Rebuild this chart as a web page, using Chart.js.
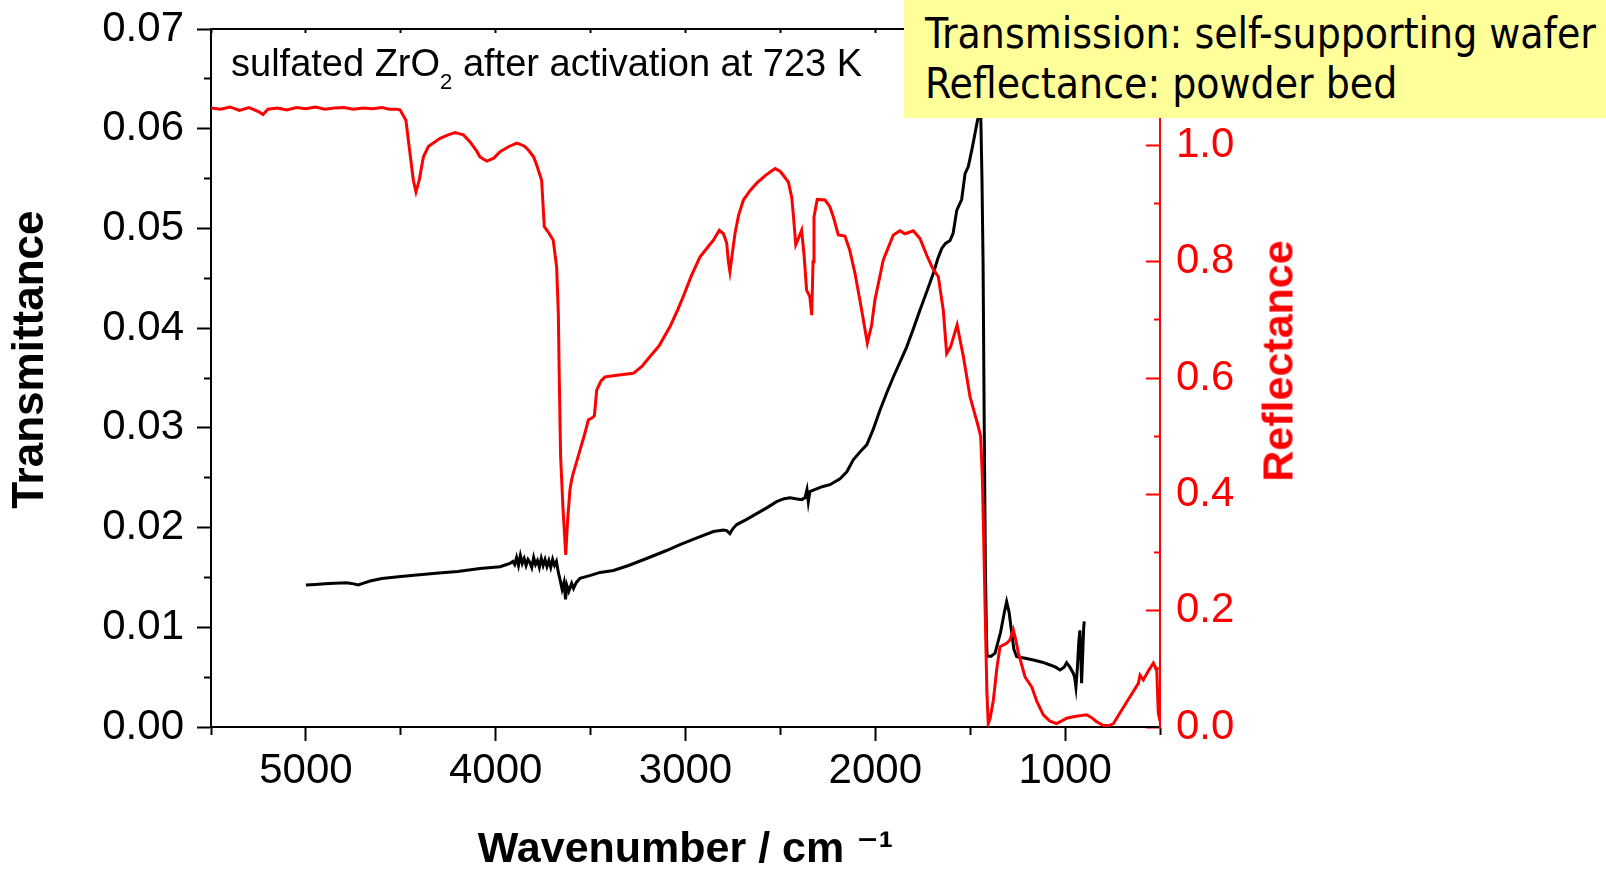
<!DOCTYPE html>
<html>
<head>
<meta charset="utf-8">
<script src="https://cdn.jsdelivr.net/npm/chart.js@4.4.1/dist/chart.umd.min.js"></script>
<style>
html,body{margin:0;padding:0;background:#fff;}
#wrap{position:relative;width:1606px;height:870px;overflow:hidden;background:#fff;}
#c{position:absolute;left:0;top:0;}
#note{position:absolute;left:231px;top:43.8px;font-family:'Liberation Sans',Arial,sans-serif;font-size:38px;line-height:38px;white-space:nowrap;color:#000;}
#note sub{font-size:0.58em;vertical-align:-13px;line-height:0;}
#box{position:absolute;left:904px;top:0;width:702px;height:118px;background:#ffff99;overflow:hidden;}
#boxtext{position:absolute;left:21px;top:9px;font-family:'DejaVu Sans Condensed','DejaVu Sans',sans-serif;font-stretch:condensed;font-size:41px;line-height:50.8px;white-space:nowrap;color:#000;}
#rtitle{position:absolute;left:1278px;top:361px;transform:translate(-50%,-50%) rotate(-90deg);font-family:'Liberation Sans',Arial,sans-serif;font-weight:bold;font-size:43px;line-height:43px;white-space:nowrap;color:#ff0000;}
</style>
</head>
<body>
<div id="wrap">
<canvas id="c" width="1606" height="870"></canvas>
<div id="note">sulfated ZrO<sub>2</sub> after activation at 723 K</div>
<div id="rtitle">Reflectance</div>
<div id="box"><div id="boxtext"><span id="l1">Transmission: self-supporting wafer</span><br><span id="l2">Reflectance: powder bed</span></div></div>
</div>
<script>
// ---- data (wavenumber in cm-1) ----
const TRANS_WN = [5000,4950,4900,4850,4785,4760,4724,4700,4662,4600,4500,4416,4300,4200,4083,3977,3950,3925,
  3910,3900,3890,3880,3870,3860,3850,3840,3830,3820,3810,3800,3790,3780,3770,3760,3750,3740,3730,3720,3710,3700,3690,3680,
  3670,3660,3650,3640,3632,3625,3615,3600,3590,3575,3556,3500,3450,3380,3300,3205,3100,3029,2950,2853,2800,2783,2766,2750,
  2730,2680,2625,2570,2520,2480,2449,2420,2388,2370,2360,2353,2345,2320,2280,2239,2186,2150,2116,2080,2045,2010,1975,1940,
  1905,1870,1835,1800,1765,1730,1694,1670,1650,1630,1606,1590,1571,1545,1527,1510,1490,1475,1460,1450,1445,1438,1432,1426,
  1420,1414,1411,1390,1369,1340,1320,1308,1295,1281,1270,1255,1210,1167,1120,1079,1050,1027,1005,992,975,957,950,943,935,
  928,922,917,913,906,902,899];
const TRANS_VAL = [0.01424,0.01430,0.01436,0.01442,0.01447,0.01440,0.01424,0.01440,0.01464,0.01490,0.01510,0.01524,0.01545,
  0.01560,0.01590,0.01608,0.01625,0.01640,
  0.01660,0.01630,0.01700,0.01620,0.01720,0.01640,0.01690,0.01620,0.01680,0.01650,0.01600,0.01700,0.01630,0.01670,0.01600,
  0.01690,0.01620,0.01680,0.01610,0.01670,0.01600,0.01680,0.01620,0.01660,
  0.01550,0.01470,0.01380,0.01450,0.01280,0.01420,0.01360,0.01440,0.01390,0.01450,0.01490,0.01520,0.01550,0.01570,0.01620,
  0.01690,0.01770,0.01830,0.01890,0.01960,0.01975,0.01970,0.01940,0.01990,
  0.02030,0.02080,0.02140,0.02200,0.02260,0.02290,0.02300,0.02290,0.02280,0.02300,0.02380,0.02260,0.02360,0.02380,0.02410,
  0.02430,0.02490,0.02560,0.02680,0.02760,0.02830,0.02990,0.03180,0.03350,
  0.03510,0.03660,0.03810,0.03990,0.04180,0.04360,0.04550,0.04700,0.04800,0.04850,0.04880,0.04950,0.05180,0.05290,0.05550,
  0.05620,0.05800,0.05950,0.06100,0.06250,0.06200,0.05500,0.04620,0.03000,
  0.01600,0.00900,0.00710,0.00710,0.00740,0.00950,0.01150,0.01257,0.01150,0.00940,0.00780,0.00705,0.00690,0.00672,0.00650,
  0.00622,0.00600,0.00572,0.00600,0.00645,0.00600,0.00540,0.00500,0.00400,0.00600,
  0.00850,0.00970,0.00700,0.00440,0.00800,0.01000,0.01060];

const REFL_WN = [5500,5450,5400,5350,5300,5250,5226,5200,5150,5100,5050,5000,4950,4900,4850,4800,4750,4700,4650,4600,4560,
  4522,4504,4473,4452,4434,4420,4403,4381,4355,4293,4250,4214,4170,4135,4100,4083,4047,4010,3977,3930,3889,3850,3828,3800,
  3784,3758,3744,3723,3697,3679,3670,3665,3658,3646,3631,3622,3609,3600,3591,3570,3556,3530,3512,3490,3480,3468,3445,3424,
  3380,3330,3275,3230,3187,3140,3082,3040,3012,2970,2924,2880,2853,2822,2800,2783,2774,2766,2755,2739,2720,2695,2660,2625,
  2580,2537,2528,2500,2458,2440,2431,2419,2405,2388,2375,2362,2345,2335,2328,2323,2306,2265,2240,2221,2195,2160,2135,2107,
  2072,2042,2020,2002,1958,1905,1870,1843,1800,1765,1729,1700,1668,1642,1624,1603,1569,1536,1501,1457,1445,1436,1428,1420,
  1412,1405,1395,1378,1360,1343,1308,1290,1273,1260,1246,1211,1176,1150,1115,1080,1045,1020,992,950,887,860,834,800,772,
  745,728,700,658,614,605,588,560,535,517,509,500];
const REFL_VAL = [1.064,1.062,1.066,1.060,1.065,1.058,1.053,1.062,1.064,1.061,1.065,1.063,1.066,1.062,1.064,1.065,1.062,
  1.064,1.063,1.065,1.062,
  1.062,1.061,1.043,0.987,0.940,0.920,0.940,0.980,0.998,1.012,1.018,1.022,1.018,1.006,0.990,0.980,0.973,0.978,0.989,0.998,
  1.004,0.999,0.992,0.980,
  0.966,0.940,0.860,0.851,0.837,0.791,0.711,0.597,0.465,0.379,0.296,0.351,0.407,0.425,0.437,0.460,0.476,0.505,0.528,0.532,
  0.535,0.579,0.595,0.602,
  0.604,0.606,0.608,0.620,0.637,0.655,0.688,0.718,0.740,0.775,0.808,0.826,0.837,0.854,0.848,0.832,0.800,0.783,0.810,0.849,
  0.880,0.906,0.922,0.935,
  0.948,0.958,0.960,0.955,0.937,0.910,0.877,0.829,0.840,0.854,0.810,0.751,0.740,0.708,0.800,0.877,0.907,0.906,0.895,0.877,
  0.846,0.844,0.820,0.780,
  0.717,0.660,0.690,0.734,0.803,0.846,0.853,0.848,0.853,0.840,0.811,0.790,0.774,0.717,0.642,0.654,0.691,0.637,0.568,0.516,
  0.500,0.430,0.310,0.180,
  0.060,0.006,0.015,0.046,0.100,0.138,0.144,0.150,0.167,0.150,0.127,0.086,0.069,0.045,0.021,0.010,0.006,0.010,0.015,0.018,
  0.021,0.016,0.009,0.003,0.002,
  0.006,0.015,0.030,0.052,0.075,0.089,0.081,0.097,0.110,0.098,0.024,0.010];

// ---- ticks ----
const X_TICKS = [500,1000,1500,2000,2500,3000,3500,4000,4500,5000,5500];
const X_TICK_LABELS = ['','1000','','2000','','3000','','4000','','5000',''];
const T_TICKS = [0,0.005,0.01,0.015,0.02,0.025,0.03,0.035,0.04,0.045,0.05,0.055,0.06,0.065,0.07];
const T_TICK_LABELS = ['0.00','','0.01','','0.02','','0.03','','0.04','','0.05','','0.06','','0.07'];
const R_TICKS = [0,0.1,0.2,0.3,0.4,0.5,0.6,0.7,0.8,0.9,1.0,1.1,1.2];
const R_TICK_LABELS = ['0.0','','0.2','','0.4','','0.6','','0.8','','1.0','','1.2'];

const FONT = "'Liberation Sans', Arial, 'DejaVu Sans', sans-serif";
const RED = '#ff0000';

const setTicks = arr => s => { s.ticks = arr.map(v => ({value: v})); };
const fixV = w => s => { s.width = w; s.paddingTop = 0; s.paddingBottom = 0; };
const fixH = h => s => { s.height = h; s.paddingLeft = 0; s.paddingRight = 0; };

new Chart(document.getElementById('c'), {
  type: 'line',
  data: {
    datasets: [
      {label: 'Reflectance', data: REFL_WN.map((w, i) => ({x: w, y: REFL_VAL[i]})), yAxisID: 'y1', xAxisID: 'x',
       borderColor: RED, borderWidth: 3, pointRadius: 0, fill: false, tension: 0},
      {label: 'Transmittance', data: TRANS_WN.map((w, i) => ({x: w, y: TRANS_VAL[i]})), yAxisID: 'y', xAxisID: 'x',
       borderColor: '#000000', borderWidth: 3, pointRadius: 0, fill: false, tension: 0}
    ]
  },
  options: {
    responsive: false, animation: false, devicePixelRatio: 1,
    layout: {padding: 0},
    plugins: {legend: {display: false}, tooltip: {enabled: false}},
    scales: {
      x: {
        type: 'linear', position: 'bottom', reverse: true, min: 500, max: 5500,
        afterBuildTicks: setTicks(X_TICKS),
        afterFit: fixH(143),
        grid: {display: true, drawOnChartArea: false, drawTicks: true, tickLength: 14, tickWidth: 2, tickColor: '#000',
               tickBorderDash: c => (X_TICK_LABELS[c.index] ? [] : [7, 100])},
        border: {display: true, color: '#000', width: 2},
        ticks: {autoSkip: false, maxRotation: 0, minRotation: 0, padding: 5, color: '#000',
                font: {family: FONT, size: 42}, callback: (v, i) => X_TICK_LABELS[i]},
        title: {display: true, text: 'Wavenumber / cm \u207B\u00B9', color: '#000',
                font: {family: FONT, size: 43, weight: 'bold', lineHeight: 0.93}, padding: {top: 0, bottom: 0}}
      },
      xTop: {
        type: 'linear', position: 'top', reverse: true, min: 500, max: 5500,
        afterBuildTicks: setTicks(X_TICKS),
        afterFit: fixH(29),
        grid: {display: true, drawOnChartArea: false, drawTicks: true, tickLength: -4, tickWidth: 2, tickColor: '#000'},
        border: {display: true, color: '#000', width: 2},
        ticks: {display: false}
      },
      y: {
        type: 'linear', position: 'left', min: 0, max: 0.07,
        afterBuildTicks: setTicks(T_TICKS),
        afterFit: fixV(211),
        grid: {display: true, drawOnChartArea: false, drawTicks: true, tickLength: 14, tickWidth: 2, tickColor: '#000',
               tickBorderDash: c => (T_TICK_LABELS[c.index] ? [] : [0, 7, 100])},
        border: {display: true, color: '#000', width: 2},
        ticks: {autoSkip: false, padding: 13, color: '#000', font: {family: FONT, size: 42},
                callback: (v, i) => T_TICK_LABELS[i]},
        title: {display: true, text: '   Transmittance', color: '#000',
                font: {family: FONT, size: 44, weight: 'bold'}, padding: {top: 4, bottom: 0}}
      },
      y1: {
        type: 'linear', position: 'right', min: 0, max: 1.2,
        afterBuildTicks: setTicks(R_TICKS),
        afterFit: fixV(446),
        grid: {display: true, drawOnChartArea: false, drawTicks: true, tickLength: -14, tickWidth: 2, tickColor: RED,
               tickBorderDash: c => (R_TICK_LABELS[c.index] ? [] : [7, 100])},
        border: {display: true, color: RED, width: 2},
        ticks: {autoSkip: false, padding: 30, color: RED, font: {family: FONT, size: 42},
                callback: (v, i) => R_TICK_LABELS[i]},
        title: {display: false}
      }
    }
  }
});

// fit the boxed caption to its measured width in the reference
(function () {
  const l1 = document.getElementById('l1');
  const bt = document.getElementById('boxtext');
  const w = l1.getBoundingClientRect().width;
  let fs = 41;
  if (w > 0 && Math.abs(w - 671) > 6) fs = 41 * 671 / w;
  bt.style.fontSize = fs.toFixed(2) + 'px';
  bt.style.top = (48.5 - 25.4 - 0.346 * fs).toFixed(2) + 'px';
})();
</script>
</body>
</html>
